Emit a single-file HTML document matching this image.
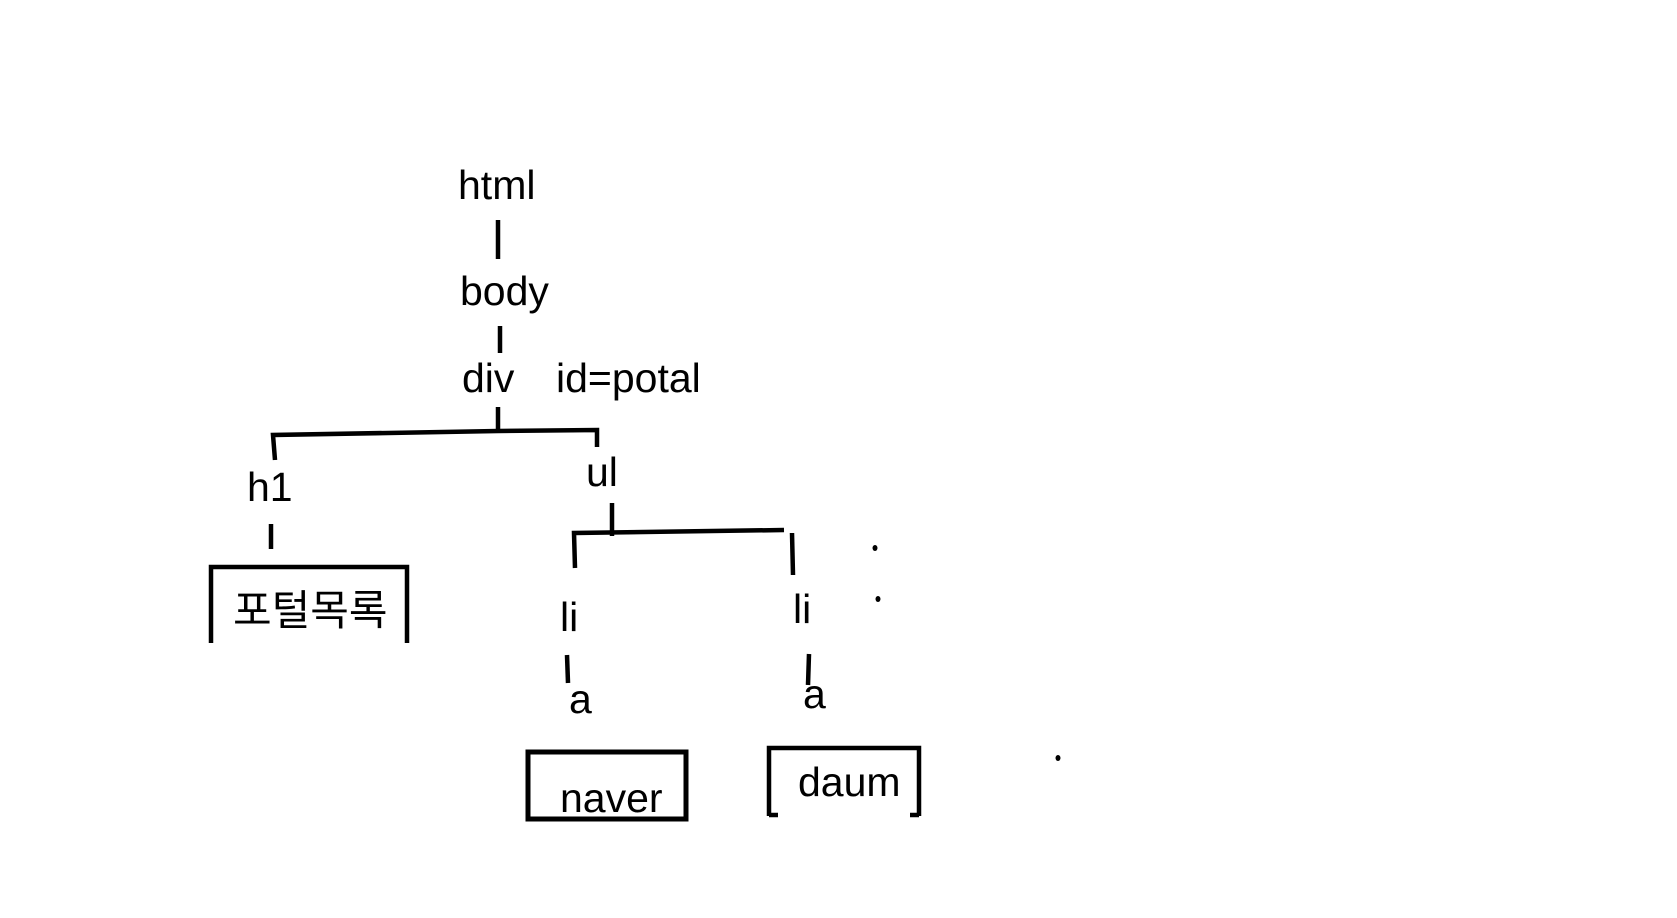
<!DOCTYPE html>
<html><head><meta charset="utf-8"><style>
html,body{margin:0;padding:0;background:#fff;width:1677px;height:918px;overflow:hidden}
svg{display:block}
text{font-family:"Liberation Sans","Noto Sans CJK KR",sans-serif;font-size:41px;fill:#000}
</style></head><body>
<svg width="1677" height="918" viewBox="0 0 1677 918" xmlns="http://www.w3.org/2000/svg">
<g stroke="#000" stroke-width="4.5" fill="none" stroke-linecap="butt">
<line x1="498" y1="220" x2="498" y2="259"/>
<line x1="500" y1="326" x2="500" y2="353"/>
<line x1="498" y1="407" x2="498" y2="432"/>
<polyline points="275,460 273,435 498,431 597,430 597,447"/>
<line x1="271" y1="524" x2="271" y2="549"/>
<polyline points="211,643 211,567 407,567 407,643"/>
<line x1="612" y1="503" x2="612" y2="536"/>
<polyline points="575,568 574,533 784,530"/>
<line x1="792" y1="533" x2="793" y2="575"/>
<line x1="567" y1="655" x2="568" y2="683"/>
<line x1="809" y1="654" x2="808" y2="685"/>
<rect x="528" y="752" width="158" height="67" stroke-width="5"/>
<polyline points="769,816 769,748 919,748 919,816"/>
<line x1="769" y1="815" x2="778" y2="815"/>
<line x1="910" y1="815" x2="919" y2="815"/>
</g>
<g fill="#000">
<ellipse cx="875" cy="548" rx="2.5" ry="3"/>
<ellipse cx="878" cy="599" rx="2.5" ry="3"/>
<ellipse cx="1058" cy="758" rx="2.5" ry="3"/>
</g>
<text x="458" y="199">html</text>
<text x="460" y="305">body</text>
<text x="462" y="392">div</text>
<text x="556" y="392">id=potal</text>
<text x="247" y="501">h1</text>
<text x="233" y="625" style="font-size:42px">포털목록</text>
<text x="586" y="486">ul</text>
<text x="560" y="631">li</text>
<text x="793" y="623">li</text>
<text x="569" y="713">a</text>
<text x="803" y="708">a</text>
<text x="560" y="812">naver</text>
<text x="798" y="796">daum</text>
</svg>
</body></html>
